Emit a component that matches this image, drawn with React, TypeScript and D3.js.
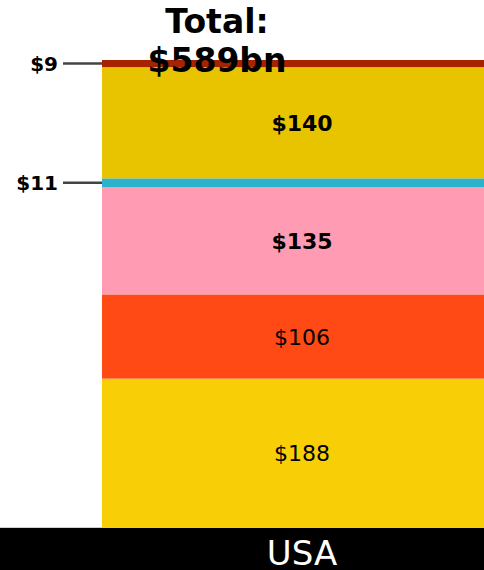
import { scaleLinear, scaleBand, stack } from 'd3';

const categories = ['USA'];
const segments = ['s1', 's2', 's3', 's4', 's5', 's6'];
const values = [188, 106, 135, 11, 140, 9];
const colors = ['#F8CF07', '#FF4A15', '#FF9BB3', '#2BB3CE', '#E8C300', '#A52300'];
const labelWeights = [400, 400, 700, 700, 700, 700];
const outsideLabel = [false, false, false, true, false, true];
const totalLabel = ['Total:', '$589bn'];

export default function App() {
  const width = 484;
  const height = 570;
  const margin = { top: 60, bottom: 42, left: 102 };
  const plotBottom = height - margin.bottom;
  const total = values.reduce((a, b) => a + b, 0);

  const row: Record<string, number> = {};
  segments.forEach((s, i) => (row[s] = values[i]));
  const series = stack<Record<string, number>>().keys(segments)([row]);

  const y = scaleLinear().domain([0, total]).range([plotBottom, margin.top]);
  const x = scaleBand<string>().domain(categories).range([margin.left, 502]).padding(0);
  const x0 = x('USA') || 0;
  const bw = x.bandwidth();
  const cx = x0 + bw / 2;
  const font = '"DejaVu Sans", sans-serif';

  return (
    <svg
      width={width}
      height={height}
      style={{ position: 'fixed', left: 0, top: 0, background: '#fff' }}
      fontFamily={font}
    >
      <line x1={0} x2={margin.left} y1={plotBottom - 0.5} y2={plotBottom - 0.5} stroke="#cfcfcf" />
      {series.map((s, i) => {
        const [lo, hi] = s[0];
        const top = y(hi);
        const h = y(lo) - y(hi);
        return (
          <g key={s.key}>
            <rect x={x0} y={top} width={bw} height={h} fill={colors[i]} />
            {outsideLabel[i] ? (
              <g>
                <line x1={63} x2={margin.left} y1={top + h / 2} y2={top + h / 2} stroke="#444" strokeWidth={2.5} />
                <text
                  x={58}
                  y={top + h / 2 + 7}
                  textAnchor="end"
                  fontSize={20}
                  fontWeight={700}
                  fill="#000"
                >
                  {`$${values[i]}`}
                </text>
              </g>
            ) : (
              <text
                x={cx}
                y={top + h / 2 + 8}
                textAnchor="middle"
                fontSize={22}
                fontWeight={labelWeights[i]}
                fill="#000"
              >
                {`$${values[i]}`}
              </text>
            )}
          </g>
        );
      })}
      <rect x={0} y={plotBottom} width={width} height={height - plotBottom} fill="#000" />
      <text x={cx} y={height - 5} textAnchor="middle" fontSize={34} fill="#fff">
        {categories[0]}
      </text>
      <text textAnchor="middle" fontSize={33} fontWeight={700} fill="#000">
        <tspan x={217} y={33}>{totalLabel[0]}</tspan>
        <tspan x={217} y={72}>{totalLabel[1]}</tspan>
      </text>
    </svg>
  );
}
